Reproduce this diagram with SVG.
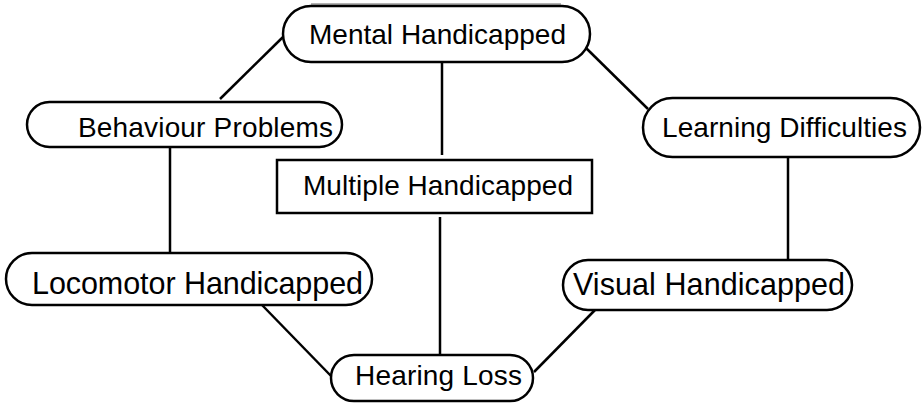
<svg xmlns="http://www.w3.org/2000/svg" width="922" height="403" viewBox="0 0 922 403">
<style>
.n{fill:#fff;stroke:#000;stroke-width:2.5}
.t{font-family:"Liberation Sans",Arial,sans-serif;font-size:28px;fill:#000}
.b{font-size:30.5px}
.c line{stroke:#000;stroke-width:2.5}
</style>
<rect width="922" height="403" fill="#fff"/>
<line x1="311" y1="4" x2="561" y2="4" stroke="#999" stroke-width="1.5"/>
<g class="c" id="connectors">
<line x1="283" y1="37" x2="220" y2="99"/>
<line x1="585" y1="47" x2="648" y2="109"/>
<line x1="442" y1="62" x2="442" y2="155"/>
<line x1="440" y1="217" x2="440" y2="355"/>
<line x1="170" y1="147" x2="170" y2="253"/>
<line x1="788" y1="157" x2="788" y2="260"/>
<line x1="262" y1="305" x2="332" y2="377"/>
<line x1="595" y1="310" x2="534" y2="372"/>
</g>
<g id="mental"><rect class="n" x="283" y="6" width="307" height="56" rx="28"/><text class="t" x="309" y="44" textLength="257" lengthAdjust="spacing">Mental Handicapped</text></g>
<g id="behaviour"><rect class="n" x="27" y="102" width="315" height="45" rx="22.5"/><text class="t" x="78" y="137" textLength="255" lengthAdjust="spacing">Behaviour Problems</text></g>
<g id="learning"><rect class="n" x="643" y="98" width="277" height="59" rx="29.5"/><text class="t" x="662" y="137" textLength="245" lengthAdjust="spacing">Learning Difficulties</text></g>
<g id="multiple"><rect class="n" x="277" y="160" width="315" height="53"/><text class="t" x="303" y="195" textLength="270" lengthAdjust="spacing">Multiple Handicapped</text></g>
<g id="locomotor"><rect class="n" x="6" y="253" width="366" height="52" rx="26"/><text class="t b" x="32" y="294" textLength="331" lengthAdjust="spacing">Locomotor Handicapped</text></g>
<g id="visual"><rect class="n" x="563" y="260" width="289" height="50" rx="25"/><text class="t b" x="573" y="295" textLength="272" lengthAdjust="spacing">Visual Handicapped</text></g>
<g id="hearing"><rect class="n" x="331" y="355" width="202" height="46" rx="23"/><text class="t" x="355" y="385" textLength="167" lengthAdjust="spacing">Hearing Loss</text></g>
</svg>
